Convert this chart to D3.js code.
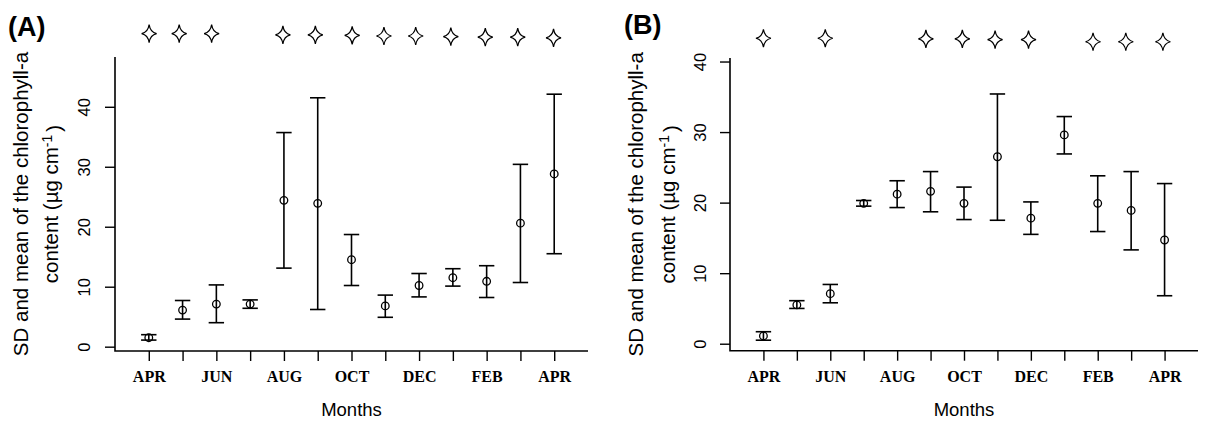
<!DOCTYPE html>
<html>
<head>
<meta charset="utf-8">
<script src="https://d3js.org/d3.v7.min.js"></script>
<style>
  body { margin: 0; background: #ffffff; }
  svg { display: block; }
</style>
</head>
<body>
<div id="chart"></div>
<script>
// month categories (13 samplings, APR to APR)
var months = ["APR", "MAY", "JUN", "JUL", "AUG", "SEP", "OCT", "NOV", "DEC", "JAN", "FEB", "MAR", "APR"];
var yTicks = [0, 10, 20, 30, 40];

// panel A : mean and mean -/+ SD
var meanA = [1.5, 6.1, 7.1, 7.1, 24.4, 23.9, 14.5, 6.8, 10.2, 11.5, 10.9, 20.6, 28.8];
var lowA  = [1.1, 4.6, 4.0, 6.4, 13.1, 6.2, 10.2, 4.9, 8.3, 10.1, 8.2, 10.7, 15.5];
var highA = [2.0, 7.7, 10.3, 7.8, 35.7, 41.5, 18.7, 8.6, 12.2, 13.0, 13.5, 30.4, 42.1];
// significance stars A (month position, value)
var starPosA = [1.01, 1.9, 2.86, 4.97, 5.93, 7.02, 7.96, 8.9, 9.94, 10.96, 11.92, 12.98];
var starValA = [52.2, 52.2, 52.2, 52.0, 52.0, 51.9, 51.8, 51.8, 51.7, 51.6, 51.6, 51.5];

// panel B
var meanB = [1.1, 5.5, 7.1, 19.9, 21.2, 21.6, 19.9, 26.5, 17.8, 29.6, 19.9, 18.9, 14.7];
var lowB  = [0.5, 5.0, 5.8, 19.5, 19.3, 18.7, 17.6, 17.5, 15.5, 26.9, 15.9, 13.3, 6.8];
var highB = [1.7, 6.1, 8.4, 20.3, 23.1, 24.4, 22.2, 35.4, 20.1, 32.2, 23.8, 24.4, 22.7];
var starPosB = [1.0, 2.85, 5.86, 6.95, 7.93, 8.93, 10.86, 11.84, 12.95];
var starValB = [43.3, 43.3, 43.2, 43.2, 43.1, 43.1, 42.8, 42.8, 42.8];

var w = 1207, h = 422;
var sans = "'Liberation Sans', Arial, Helvetica, sans-serif";
var serif = "'Liberation Serif', 'Times New Roman', serif";

var svg = d3.select("#chart").append("svg")
  .attr("width", w)
  .attr("height", h);
svg.append("rect").attr("width", w).attr("height", h).attr("fill", "#ffffff");

// four pointed star outline
function starPath(rx, ry) {
  var k = 0.15;
  return "M0," + (-ry) +
    "Q" + (rx * k) + "," + (-ry * k) + " " + rx + ",0" +
    "Q" + (rx * k) + "," + (ry * k) + " 0," + ry +
    "Q" + (-rx * k) + "," + (ry * k) + " " + (-rx) + ",0" +
    "Q" + (-rx * k) + "," + (-ry * k) + " 0," + (-ry) + "Z";
}

function drawPanel(p) {
  var g = svg.append("g");
  var x = d3.scaleLinear().domain([0, 14]).range([p.left, p.right]);
  var y = d3.scaleLinear().domain(p.ydom).range([p.bottom, p.top]);
  var idx = d3.range(months.length);

  // L shaped box
  g.append("path")
    .attr("d", "M" + p.left + "," + p.top + "V" + p.bottom + "H" + p.right)
    .attr("fill", "none")
    .attr("stroke", "#000")
    .attr("stroke-width", 1.6);

  // y axis
  var ya = g.append("g")
    .attr("transform", "translate(" + p.left + ",0)")
    .call(d3.axisLeft(y).tickValues(yTicks).tickSize(10).tickSizeOuter(0));
  ya.select(".domain").remove();
  ya.selectAll(".tick line").attr("stroke", "#000").attr("stroke-width", 1.4);
  ya.selectAll(".tick text")
    .attr("x", null).attr("dy", null)
    .attr("transform", "translate(" + p.ylabOff + ",0) rotate(-90)")
    .attr("text-anchor", "middle")
    .attr("font-family", sans)
    .attr("font-size", "16.5px")
    .attr("fill", "#000");

  // x axis
  var xa = g.append("g")
    .attr("transform", "translate(0," + p.bottom + ")")
    .call(d3.axisBottom(x).tickValues(idx.map(function(i){ return i + 1; }))
      .tickSize(10).tickSizeOuter(0)
      .tickFormat(function(d, i){ return i % 2 == 0 ? months[i] : ""; }));
  xa.select(".domain").remove();
  xa.selectAll(".tick line").attr("stroke", "#000").attr("stroke-width", 1.4);
  xa.selectAll(".tick text")
    .attr("y", 20)
    .attr("font-family", serif)
    .attr("font-weight", "bold")
    .attr("font-size", "16px")
    .attr("fill", "#000");

  // error bars
  var bars = g.selectAll(".bar").data(idx).enter().append("g").attr("class", "bar");
  bars.append("line")
    .attr("x1", function(i){ return x(i + 1); })
    .attr("x2", function(i){ return x(i + 1); })
    .attr("y1", function(i){ return y(p.low[i]); })
    .attr("y2", function(i){ return y(p.high[i]); });
  bars.append("line")
    .attr("x1", function(i){ return x(i + 1) - 7.7; })
    .attr("x2", function(i){ return x(i + 1) + 7.7; })
    .attr("y1", function(i){ return y(p.high[i]); })
    .attr("y2", function(i){ return y(p.high[i]); });
  bars.append("line")
    .attr("x1", function(i){ return x(i + 1) - 7.7; })
    .attr("x2", function(i){ return x(i + 1) + 7.7; })
    .attr("y1", function(i){ return y(p.low[i]); })
    .attr("y2", function(i){ return y(p.low[i]); });
  bars.selectAll("line").attr("stroke", "#000").attr("stroke-width", 1.6);
  bars.append("circle")
    .attr("cx", function(i){ return x(i + 1); })
    .attr("cy", function(i){ return y(p.mean[i]); })
    .attr("r", 3.8)
    .attr("fill", "none")
    .attr("stroke", "#000")
    .attr("stroke-width", 1.3);

  // stars
  g.selectAll(".star").data(p.starPos).enter().append("path")
    .attr("class", "star")
    .attr("d", starPath(7.5, 9))
    .attr("transform", function(d, i){ return "translate(" + x(d) + "," + y(p.starVal[i]) + ")"; })
    .attr("fill", "none")
    .attr("stroke", "#000")
    .attr("stroke-width", 1.2)
    .attr("stroke-linejoin", "miter");

  // axis titles
  var cy = (p.top + p.bottom) / 2;
  g.append("text")
    .attr("transform", "translate(" + p.t1 + "," + cy + ") rotate(-90)")
    .attr("text-anchor", "middle")
    .attr("font-family", sans)
    .attr("font-size", "20.5px")
    .text("SD and mean of the chlorophyll-a");
  var t2 = g.append("text")
    .attr("transform", "translate(" + p.t2 + "," + cy + ") rotate(-90)")
    .attr("text-anchor", "middle")
    .attr("font-family", sans)
    .attr("font-size", "20.5px");
  t2.append("tspan").text("content (\u00b5g cm");
  t2.append("tspan").attr("dy", "-0.45em").attr("font-size", "14px").text("-1");
  t2.append("tspan").attr("dy", "0.45em").attr("dx", "3").text(")");

  g.append("text")
    .attr("x", (p.left + p.right) / 2)
    .attr("y", 416)
    .attr("text-anchor", "middle")
    .attr("font-family", sans)
    .attr("font-size", "18.5px")
    .text("Months");

  g.append("text")
    .attr("x", p.labX)
    .attr("y", p.labY)
    .attr("font-family", sans)
    .attr("font-weight", "bold")
    .attr("font-size", "27px")
    .text(p.label);
}

drawPanel({
  left: 115, right: 588, top: 57, bottom: 351, ydom: [-0.72, 48.3],
  mean: meanA, low: lowA, high: highA, starPos: starPosA, starVal: starValA,
  ylabOff: -25.5, t1: 28, t2: 58, label: "(A)", labX: 8, labY: 36
});
drawPanel({
  left: 730, right: 1198, top: 58, bottom: 350.7, ydom: [-0.99, 40.5],
  mean: meanB, low: lowB, high: highB, starPos: starPosB, starVal: starValB,
  ylabOff: -24, t1: 643, t2: 675, label: "(B)", labX: 624, labY: 34
});
</script>
</body>
</html>
